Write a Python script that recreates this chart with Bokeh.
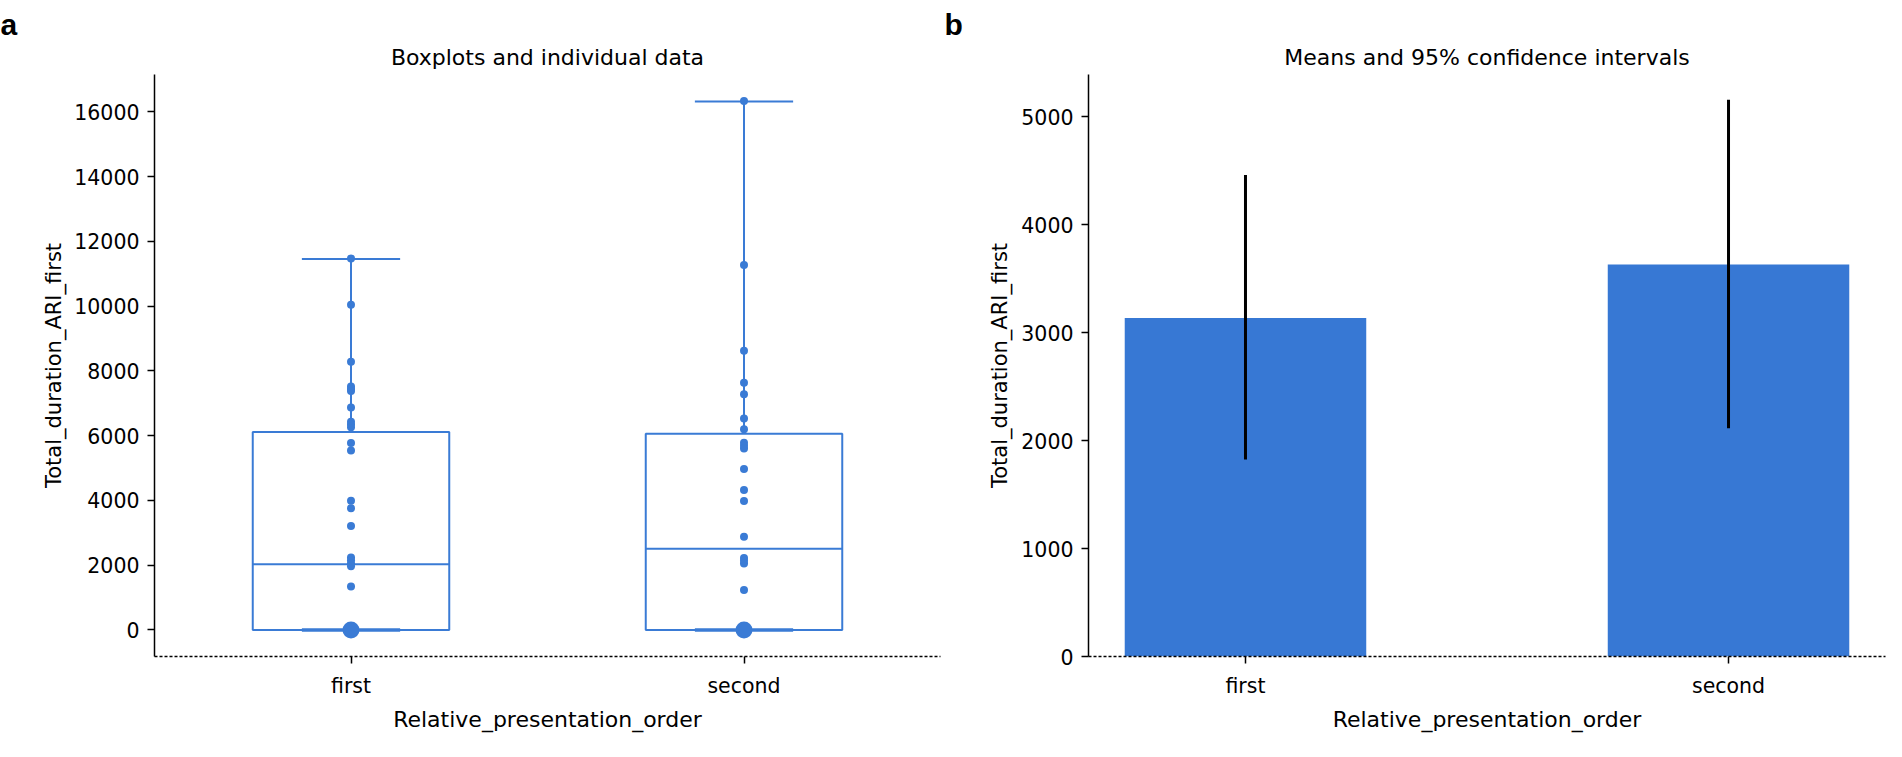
from bokeh.plotting import figure
from bokeh.layouts import row
from bokeh.models import FixedTicker, Title, Range1d
from bokeh.embed import file_html
from bokeh.resources import INLINE

# ---------------- data ----------------
categories = ["first", "second"]

first_values = [11470, 10040, 8280, 7520, 7440, 7380, 6870, 6430, 6340, 6260,
                5770, 5540, 3990, 3760, 3210, 2240, 2150, 2050, 1970, 1340,
                0, 0, 0, 0, 0, 0, 0, 0, 0, 0, 0, 0, 0, 0, 0]
second_values = [16330, 11270, 8620, 7630, 7280, 6530, 6200, 5780, 5690, 5600,
                 4970, 4320, 3980, 2880, 2220, 2140, 2050, 1230,
                 0, 0, 0, 0, 0, 0, 0, 0, 0, 0]

box_q1 = [0, 0]
box_median = [2030, 2510]
box_q3 = [6110, 6060]
whisker_low = [0, 0]
whisker_high = [11450, 16320]

means = [3135, 3630]
ci_low = [1825, 2115]
ci_high = [4460, 5155]

y_ticks_a = [0, 2000, 4000, 6000, 8000, 10000, 12000, 14000, 16000]
y_ticks_b = [0, 1000, 2000, 3000, 4000, 5000]

title_a = "Boxplots and individual data"
title_b = "Means and 95% confidence intervals"
x_label = "Relative_presentation_order"
y_label = "Total_duration_ARI_first"

# ---------------- styling ----------------
BLUE = "#3a7bd5"
BAR = "#3778d4"
FONT = "DejaVu Sans"
xs = list(range(len(categories)))


def style(p, yticks, title, letter, letter_dx, ylab_standoff):
    p.xgrid.visible = False
    p.ygrid.visible = False
    p.outline_line_color = None
    p.background_fill_color = "white"
    p.border_fill_color = "white"
    p.title.text = ""
    # chart title, closest to the frame
    p.add_layout(Title(text=title, align="center", text_font=FONT, text_font_size="22px",
                       text_font_style="normal", text_color="black", standoff=10), "above")
    # panel letter, outermost
    p.add_layout(Title(text=letter, align="left", offset=-letter_dx, standoff=-6,
                       vertical_align="bottom",
                       text_font="Liberation Sans", text_font_style="bold",
                       text_font_size="30px", text_color="black"), "above")
    for ax in (p.xaxis[0], p.yaxis[0]):
        ax.axis_line_color = "black"
        ax.axis_line_width = 1.5
        ax.major_tick_line_color = "black"
        ax.major_tick_line_width = 1.5
        ax.major_tick_in = 0
        ax.major_tick_out = 7
        ax.minor_tick_line_color = None
        ax.major_label_text_font = FONT
        ax.major_label_text_font_size = "20.5px"
        ax.major_label_text_color = "black"
        ax.axis_label_text_font = FONT
        ax.axis_label_text_font_style = "normal"
        ax.axis_label_text_color = "black"
    p.xaxis.axis_label = x_label
    p.yaxis.axis_label = y_label
    p.xaxis.axis_label_text_font_size = "22px"
    p.yaxis.axis_label_text_font_size = "21px"
    p.xaxis.axis_line_dash = "3 2"
    p.xaxis.major_label_standoff = 10
    p.yaxis.major_label_standoff = 8
    p.xaxis.axis_label_standoff = 6
    p.yaxis.axis_label_standoff = ylab_standoff
    p.yaxis.ticker = FixedTicker(ticks=yticks)
    p.xaxis.ticker = FixedTicker(ticks=xs)
    p.xaxis.major_label_overrides = {i: c for i, c in zip(xs, categories)}


# ---------------- panel a ----------------
W1, H = 942, 741
p1 = figure(width=W1, height=H, x_range=Range1d(-0.5, 1.5), y_range=Range1d(-820, 17150),
            output_backend="svg", toolbar_location=None,
            min_border_left=154, min_border_right=2, min_border_top=71, min_border_bottom=85)
style(p1, y_ticks_a, title_a, "a", 154, 5)

half = 0.25
cap = 0.125
p1.quad(left=[x - half for x in xs], right=[x + half for x in xs], bottom=box_q1, top=box_q3,
        fill_color=None, line_color=BLUE, line_width=2)
p1.segment(x0=[x - half for x in xs], x1=[x + half for x in xs], y0=box_median, y1=box_median,
           line_color=BLUE, line_width=2)
p1.segment(x0=xs, x1=xs, y0=box_q3, y1=whisker_high, line_color=BLUE, line_width=2)
p1.segment(x0=xs, x1=xs, y0=whisker_low, y1=box_q1, line_color=BLUE, line_width=2)
p1.segment(x0=[x - cap for x in xs], x1=[x + cap for x in xs], y0=whisker_high, y1=whisker_high,
           line_color=BLUE, line_width=2)
p1.segment(x0=[x - cap for x in xs], x1=[x + cap for x in xs], y0=whisker_low, y1=whisker_low,
           line_color=BLUE, line_width=3.5)

for xi, vals in zip(xs, [first_values, second_values]):
    nz = [v for v in vals if v != 0]
    z = [v for v in vals if v == 0]
    p1.scatter(x=[xi] * len(nz), y=nz, size=8, color=BLUE, line_color=None)
    if z:
        p1.scatter(x=[xi], y=[0], size=17, color=BLUE, line_color=None)

# ---------------- panel b ----------------
W2 = 944
p2 = figure(width=W2, height=H, x_range=Range1d(-0.325, 1.325), y_range=Range1d(0, 5390),
            output_backend="svg", toolbar_location=None,
            min_border_left=146, min_border_right=1, min_border_top=74, min_border_bottom=74)
style(p2, y_ticks_b, title_b, "b", 144, 6)

p2.vbar(x=xs, top=means, bottom=0, width=0.5, fill_color=BAR, line_color=None)
p2.segment(x0=xs, x1=xs, y0=ci_low, y1=ci_high, line_color="black", line_width=3)

layout = row(p1, p2)
open("out.html", "w").write(file_html(layout, INLINE))
